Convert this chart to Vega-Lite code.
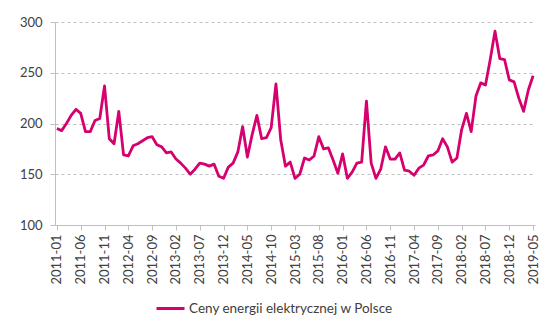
{
  "$schema": "https://vega.github.io/schema/vega-lite/v6.json",
  "width": 480,
  "height": 203,
  "autosize": "none",
  "padding": {"left": 55, "top": 22, "right": 12, "bottom": 100},
  "background": "white",
  "config": {
    "view": {"stroke": null},
    "font": "Lato"
  },
  "data": {
    "values": [
      {"m": "2011-01", "v": 195}, {"m": "2011-02", "v": 193}, {"m": "2011-03", "v": 200}, {"m": "2011-04", "v": 208},
      {"m": "2011-05", "v": 214}, {"m": "2011-06", "v": 210}, {"m": "2011-07", "v": 192}, {"m": "2011-08", "v": 192},
      {"m": "2011-09", "v": 203}, {"m": "2011-10", "v": 205}, {"m": "2011-11", "v": 237}, {"m": "2011-12", "v": 185},
      {"m": "2012-01", "v": 180}, {"m": "2012-02", "v": 212}, {"m": "2012-03", "v": 169}, {"m": "2012-04", "v": 168},
      {"m": "2012-05", "v": 178}, {"m": "2012-06", "v": 180}, {"m": "2012-07", "v": 183}, {"m": "2012-08", "v": 186},
      {"m": "2012-09", "v": 187}, {"m": "2012-10", "v": 179}, {"m": "2012-11", "v": 177}, {"m": "2012-12", "v": 171},
      {"m": "2013-01", "v": 172}, {"m": "2013-02", "v": 165}, {"m": "2013-03", "v": 161}, {"m": "2013-04", "v": 156},
      {"m": "2013-05", "v": 150}, {"m": "2013-06", "v": 155}, {"m": "2013-07", "v": 161}, {"m": "2013-08", "v": 160},
      {"m": "2013-09", "v": 158}, {"m": "2013-10", "v": 160}, {"m": "2013-11", "v": 148}, {"m": "2013-12", "v": 146},
      {"m": "2014-01", "v": 157}, {"m": "2014-02", "v": 161}, {"m": "2014-03", "v": 172}, {"m": "2014-04", "v": 197},
      {"m": "2014-05", "v": 167}, {"m": "2014-06", "v": 189}, {"m": "2014-07", "v": 208}, {"m": "2014-08", "v": 185},
      {"m": "2014-09", "v": 186}, {"m": "2014-10", "v": 196}, {"m": "2014-11", "v": 239}, {"m": "2014-12", "v": 184},
      {"m": "2015-01", "v": 158}, {"m": "2015-02", "v": 162}, {"m": "2015-03", "v": 146}, {"m": "2015-04", "v": 150},
      {"m": "2015-05", "v": 166}, {"m": "2015-06", "v": 164}, {"m": "2015-07", "v": 168}, {"m": "2015-08", "v": 187},
      {"m": "2015-09", "v": 175}, {"m": "2015-10", "v": 176}, {"m": "2015-11", "v": 164}, {"m": "2015-12", "v": 151},
      {"m": "2016-01", "v": 170}, {"m": "2016-02", "v": 146}, {"m": "2016-03", "v": 152}, {"m": "2016-04", "v": 161},
      {"m": "2016-05", "v": 162}, {"m": "2016-06", "v": 222}, {"m": "2016-07", "v": 161}, {"m": "2016-08", "v": 146},
      {"m": "2016-09", "v": 155}, {"m": "2016-10", "v": 177}, {"m": "2016-11", "v": 165}, {"m": "2016-12", "v": 165},
      {"m": "2017-01", "v": 171}, {"m": "2017-02", "v": 154}, {"m": "2017-03", "v": 153}, {"m": "2017-04", "v": 149},
      {"m": "2017-05", "v": 156}, {"m": "2017-06", "v": 159}, {"m": "2017-07", "v": 168}, {"m": "2017-08", "v": 169},
      {"m": "2017-09", "v": 173}, {"m": "2017-10", "v": 185}, {"m": "2017-11", "v": 177}, {"m": "2017-12", "v": 162},
      {"m": "2018-01", "v": 166}, {"m": "2018-02", "v": 194}, {"m": "2018-03", "v": 210}, {"m": "2018-04", "v": 192},
      {"m": "2018-05", "v": 227}, {"m": "2018-06", "v": 240}, {"m": "2018-07", "v": 238}, {"m": "2018-08", "v": 263},
      {"m": "2018-09", "v": 291}, {"m": "2018-10", "v": 264}, {"m": "2018-11", "v": 263}, {"m": "2018-12", "v": 243},
      {"m": "2019-01", "v": 241}, {"m": "2019-02", "v": 225}, {"m": "2019-03", "v": 212}, {"m": "2019-04", "v": 233},
      {"m": "2019-05", "v": 247}
    ]
  },
  "mark": {"type": "line", "strokeWidth": 2.8, "strokeJoin": "round"},
  "encoding": {
    "x": {
      "field": "m",
      "type": "ordinal",
      "sort": null,
      "scale": {"type": "point", "padding": 0.4},
      "axis": {
        "title": null,
        "values": ["2011-01", "2011-06", "2011-11", "2012-04", "2012-09", "2013-02", "2013-07", "2013-12", "2014-05", "2014-10", "2015-03", "2015-08", "2016-01", "2016-06", "2016-11", "2017-04", "2017-09", "2018-02", "2018-07", "2018-12", "2019-05"],
        "labelAngle": -90,
        "labelFontSize": 13,
        "labelColor": "#404040",
        "labelPadding": 4,
        "domainColor": "#bfbfbf",
        "tickColor": "#bfbfbf",
        "tickSize": 5,
        "grid": false
      }
    },
    "y": {
      "field": "v",
      "type": "quantitative",
      "scale": {"domain": [100, 300], "nice": false, "zero": false},
      "axis": {
        "title": null,
        "values": [100, 150, 200, 250, 300],
        "labelFontSize": 13,
        "labelColor": "#404040",
        "labelPadding": 8,
        "domainColor": "#bfbfbf",
        "tickColor": "#bfbfbf",
        "tickSize": 5,
        "grid": true,
        "gridColor": "#bfbfbf",
        "gridDash": [3, 3],
        "gridWidth": 1
      }
    },
    "color": {
      "datum": "Ceny energii elektrycznej w Polsce",
      "scale": {"range": ["#d6006f"]},
      "legend": {
        "title": null,
        "orient": "none",
        "legendX": 100,
        "legendY": 271,
        "symbolType": "stroke",
        "symbolSize": 784,
        "symbolStrokeWidth": 3,
        "labelFontSize": 13.5,
        "labelColor": "#404040",
        "labelOffset": 3,
        "labelLimit": 0
      }
    }
  }
}
